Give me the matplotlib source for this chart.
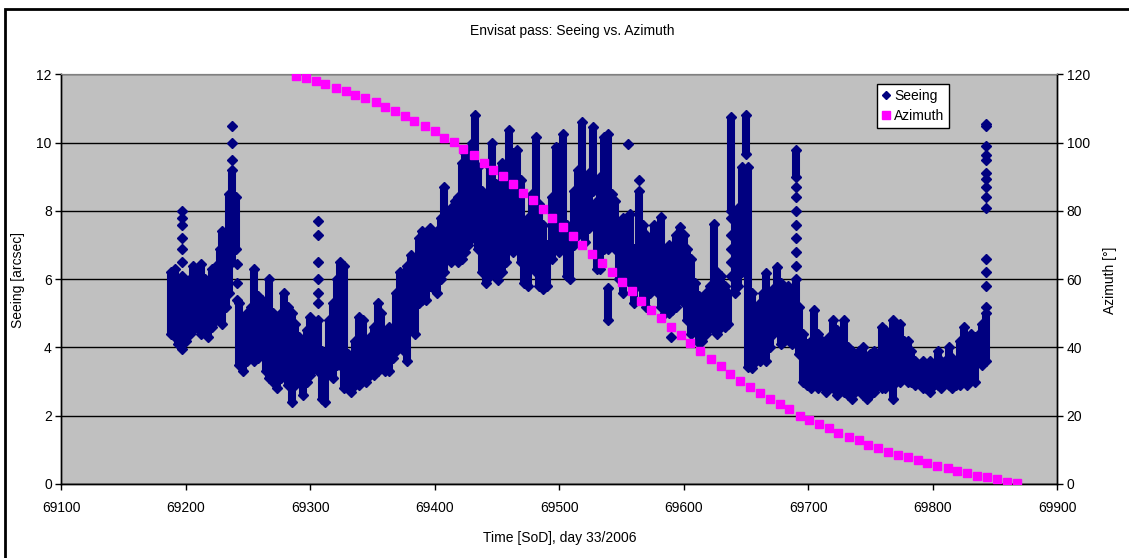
import matplotlib.pyplot as plt
from matplotlib.lines import Line2D
from matplotlib.patches import Rectangle

plt.rcParams['font.family'] = ['Liberation Sans', 'DejaVu Sans']

# azimuth samples [SoD], [deg]
az_time = [69288.7, 69296.5, 69304.3, 69312.0, 69320.6, 69328.4, 69336.2, 69343.9,
           69352.6, 69360.3, 69368.1, 69375.9, 69383.6, 69392.2, 69400.0, 69407.7,
           69415.5, 69423.0, 69431.6, 69439.4, 69447.1, 69454.9, 69462.7, 69471.2,
           69479.0, 69486.8, 69494.5, 69503.1, 69510.9, 69518.6, 69526.4, 69534.2,
           69542.7, 69550.5, 69558.3, 69566.0, 69573.6, 69582.1, 69589.9, 69597.7,
           69605.4, 69613.5, 69622.1, 69629.9, 69637.6, 69645.4, 69653.2, 69661.5,
           69669.2, 69677.0, 69684.8, 69693.4, 69701.1, 69708.9, 69716.7, 69724.4,
           69733.0, 69740.8, 69748.5, 69756.3, 69764.1, 69772.6, 69780.4, 69788.2,
           69795.9, 69803.7, 69812.3, 69820.0, 69827.8, 69835.6, 69844.1, 69851.9,
           69859.7, 69867.5]
az_value = [119.7, 118.9, 118.0, 117.1, 116.0, 115.1, 114.1, 113.1,
            111.9, 110.4, 109.3, 107.9, 106.3, 104.9, 103.4, 101.5,
            100.1, 98.3, 96.3, 94.2, 92.0, 90.2, 87.9, 85.4,
            83.1, 80.5, 78.0, 75.4, 72.8, 70.1, 67.3, 64.7,
            62.1, 59.1, 56.6, 53.7, 51.1, 48.5, 45.9, 43.6,
            41.2, 38.9, 36.7, 34.5, 32.3, 30.3, 28.5, 26.7,
            24.9, 23.4, 21.9, 19.9, 18.9, 17.5, 16.3, 14.8,
            13.8, 12.8, 11.5, 10.5, 9.4, 8.6, 7.9, 6.9,
            6.1, 5.4, 4.7, 3.9, 3.2, 2.4, 2.1, 1.5,
            0.7, 0.2]

# seeing: dense measurement streaks, per time column the low / high value [arcsec]
col_time = [69188, 69191, 69194, 69197, 69200, 69203, 69206, 69209, 69212, 69215,
            69218, 69221, 69224, 69227, 69229, 69232, 69235, 69237, 69240, 69243,
            69246, 69249, 69252, 69255, 69258, 69261, 69264, 69267, 69270, 69273,
            69276, 69279, 69282, 69285, 69288, 69291, 69294, 69297, 69300, 69303,
            69306, 69309, 69312, 69315, 69318, 69321, 69324, 69327, 69330, 69333,
            69336, 69339, 69342, 69345, 69348, 69351, 69354, 69357, 69360, 69363,
            69366, 69369, 69372, 69375, 69378, 69381, 69384, 69387, 69390, 69393,
            69396, 69399, 69402, 69405, 69407, 69410, 69413, 69416, 69419, 69422,
            69424, 69427, 69430, 69432, 69435, 69438, 69441, 69444, 69446, 69449,
            69451, 69454, 69457, 69460, 69463, 69466, 69469, 69472, 69475, 69478,
            69481, 69484, 69487, 69490, 69494, 69497, 69500, 69503, 69506, 69509,
            69512, 69515, 69518, 69521, 69524, 69527, 69530, 69533, 69536, 69539,
            69539, 69542, 69545, 69548, 69551, 69557, 69560, 69564, 69567, 69570,
            69573, 69576, 69579, 69582, 69585, 69588, 69591, 69594, 69597, 69600,
            69603, 69606, 69609, 69612, 69615, 69618, 69621, 69624, 69627, 69630,
            69633, 69636, 69638, 69641, 69644, 69647, 69650, 69652, 69655, 69658,
            69661, 69664, 69666, 69669, 69672, 69675, 69678, 69681, 69684, 69687,
            69690, 69690, 69693, 69696, 69699, 69702, 69705, 69708, 69711, 69714,
            69717, 69720, 69723, 69726, 69729, 69732, 69735, 69738, 69741, 69744,
            69747, 69750, 69753, 69756, 69759, 69762, 69765, 69768, 69771, 69774,
            69777, 69780, 69783, 69786, 69789, 69792, 69795, 69798, 69801, 69804,
            69807, 69810, 69813, 69816, 69819, 69822, 69825, 69828, 69831, 69834,
            69837, 69840, 69843]
col_low = [4.4, 4.3, 4.1, 3.95, 4.2, 4.4, 4.5, 4.7, 4.4, 4.5,
           4.3, 4.6, 4.8, 5.0, 4.7, 5.2, 5.6, 6.5, 6.9, 3.5,
           3.3, 3.6, 3.9, 3.6, 3.7, 3.9, 3.3, 3.1, 3.0, 2.8,
           3.1, 3.4, 2.9, 2.4, 2.9, 3.5, 2.6, 3.0, 3.2, 3.4,
           3.3, 2.5, 2.4, 3.3, 3.1, 3.5, 3.5, 2.8, 2.8, 2.7,
           2.9, 2.9, 3.1, 3.0, 3.2, 3.2, 3.3, 3.5, 3.3, 3.3,
           3.7, 3.9, 4.0, 3.9, 3.6, 4.8, 4.4, 5.3, 5.4, 5.4,
           5.8, 5.7, 5.6, 6.0, 6.2, 6.6, 6.5, 6.6, 6.5, 6.6,
           6.8, 7.0, 7.2, 7.5, 6.9, 6.2, 5.9, 6.1, 6.5, 6.1,
           5.97, 6.2, 6.5, 7.3, 6.8, 6.9, 6.5, 5.9, 5.8, 6.4,
           6.2, 5.8, 5.7, 5.8, 6.6, 6.9, 6.8, 7.2, 6.1, 6.0,
           7.0, 7.3, 7.8, 7.1, 7.5, 8.6, 6.3, 6.3, 6.9, 6.9,
           4.8, 7.0, 6.9, 6.0, 5.6, 5.9, 5.3, 5.8, 5.4, 5.2,
           5.6, 5.9, 5.6, 5.2, 5.0, 5.0, 5.1, 5.2, 5.5, 5.3,
           4.8, 4.4, 4.6, 4.12, 4.2, 4.4, 4.6, 4.5, 4.4, 4.6,
           4.6, 4.7, 8.0, 5.6, 5.8, 6.2, 9.68, 3.44, 3.4, 3.6,
           3.6, 3.8, 3.6, 4.0, 4.4, 4.6, 4.1, 4.2, 4.3, 4.1,
           4.8, 9.0, 3.8, 3.0, 2.9, 2.8, 2.9, 2.8, 2.9, 2.7,
           2.9, 2.8, 2.6, 2.8, 2.7, 2.6, 2.5, 2.7, 2.8, 2.6,
           2.5, 2.6, 2.7, 2.9, 2.8, 2.8, 2.9, 2.5, 3.0, 3.0,
           3.1, 3.0, 3.0, 2.9, 3.0, 2.8, 2.8, 2.7, 2.9, 2.9,
           2.8, 3.0, 2.9, 2.8, 2.9, 2.9, 3.0, 2.9, 3.2, 3.0,
           3.6, 3.5, 3.6]
col_high = [6.2, 6.3, 5.8, 6.1, 5.5, 6.0, 6.4, 6.3, 6.45, 6.0,
            5.9, 6.3, 6.4, 6.9, 7.4, 6.9, 8.5, 9.2, 8.4, 5.3,
            4.9, 5.0, 5.2, 6.3, 5.5, 5.4, 4.5, 6.0, 5.0, 4.5,
            5.0, 5.6, 5.2, 5.0, 4.7, 4.3, 4.1, 4.5, 4.9, 4.7,
            4.8, 3.9, 3.4, 4.8, 5.3, 6.0, 6.5, 6.4, 3.8, 3.6,
            4.2, 4.9, 4.8, 4.0, 4.3, 4.6, 5.3, 5.0, 4.4, 4.6,
            4.4, 5.6, 6.2, 5.8, 6.4, 6.7, 6.5, 7.2, 7.4, 6.9,
            7.5, 7.3, 7.4, 7.8, 8.7, 8.0, 8.1, 8.3, 8.4, 9.4,
            9.7, 9.5, 10.0, 10.8, 9.3, 8.6, 8.3, 9.3, 10.0, 8.8,
            8.3, 9.4, 9.0, 10.36, 9.7, 9.78, 8.9, 7.6, 7.8, 8.5,
            10.17, 8.2, 7.6, 7.0, 8.4, 9.87, 9.6, 10.26, 7.6, 7.2,
            8.6, 9.2, 10.6, 9.0, 9.1, 10.46, 8.3, 9.0, 10.17, 10.26,
            5.73, 8.5, 8.3, 7.2, 7.8, 7.9, 6.9, 8.6, 7.6, 7.3,
            7.1, 7.6, 7.3, 7.83, 6.8, 7.0, 6.8, 7.3, 7.53, 7.3,
            6.9, 6.6, 5.9, 5.5, 5.3, 5.6, 5.8, 7.63, 6.2, 6.1,
            5.8, 5.6, 10.75, 7.7, 8.1, 9.3, 10.8, 9.3, 5.6, 5.0,
            5.3, 5.6, 6.17, 5.2, 5.7, 6.36, 5.9, 5.4, 5.8, 5.5,
            6.0, 9.78, 5.2, 4.4, 4.1, 4.2, 5.1, 4.4, 4.2, 4.0,
            4.3, 4.8, 4.5, 3.6, 4.8, 4.0, 3.9, 3.8, 3.9, 4.0,
            3.7, 3.8, 3.9, 3.4, 4.6, 4.5, 3.8, 4.8, 4.5, 4.7,
            4.2, 4.2, 3.9, 3.6, 3.5, 3.6, 3.5, 3.6, 3.5, 3.9,
            3.6, 3.6, 4.0, 3.7, 3.6, 4.2, 4.6, 4.1, 4.4, 4.3,
            4.4, 4.7, 5.0]

# seeing: isolated samples above the streaks
spike_time = [69197, 69197, 69197, 69197, 69197, 69197,
              69237, 69237, 69237, 69241, 69241, 69241,
              69306, 69306, 69306, 69306, 69306, 69306,
              69555, 69564, 69590,
              69638, 69638, 69638, 69638, 69638,
              69690, 69690, 69690, 69690, 69690, 69690, 69690,
              69843, 69843, 69843, 69843, 69843, 69843, 69843,
              69843, 69843, 69843, 69843, 69843, 69843, 69843]
spike_seeing = [6.5, 6.9, 7.2, 7.6, 7.8, 8.0,
                9.5, 10.0, 10.5, 6.46, 5.88, 5.39,
                7.7, 7.3, 6.5, 6.0, 5.6, 5.3,
                9.97, 8.9, 4.31,
                7.8, 7.3, 6.9, 6.5, 6.1,
                8.7, 8.4, 8.0, 7.6, 7.2, 6.8, 6.4,
                5.2, 5.8, 6.2, 6.6, 8.1, 8.4, 8.7,
                8.95, 9.1, 9.5, 9.65, 9.9, 10.5, 10.56]

navy = '#000080'
magenta = '#ff00ff'
dsize = 4.8

fig = plt.figure(figsize=(11.29, 5.58), dpi=100)
fig.patch.set_facecolor('white')
ax = fig.add_axes([0.05447, 0.13262, 0.88176, 0.73387])
ax.set_facecolor('#c0c0c0')

# seeing streaks
ax.vlines(col_time, col_low, col_high, colors=navy, linewidth=5.8,
          capstyle='butt', zorder=3)
ax.plot(col_time, col_low, 'D', color=navy, markersize=dsize, zorder=3)
ax.plot(col_time, col_high, 'D', color=navy, markersize=dsize, zorder=3)
ax.plot(spike_time, spike_seeing, 'D', color=navy, markersize=dsize, zorder=3)

ax.set_xlim(69100, 69900)
ax.set_ylim(0, 12)
ax.set_xticks(range(69100, 69901, 100))
ax.set_yticks(range(0, 13, 2))
ax.yaxis.grid(True, color='black', linewidth=1.0, zorder=1)
ax.set_axisbelow(True)

ax2 = ax.twinx()
ax2.plot(az_time, az_value, 's', color=magenta, markersize=6, zorder=4)
ax2.set_ylim(0, 120)
ax2.set_yticks(range(0, 121, 20))

for a in (ax, ax2):
    a.spines['top'].set_color('#808080')
    for side in ('left', 'right', 'bottom'):
        a.spines[side].set_color('black')
        a.spines[side].set_linewidth(1.0)
    a.tick_params(direction='out', length=4, width=1, color='black',
                  labelsize=10, labelcolor='black')

ax.tick_params(axis='x', pad=8)
ax.tick_params(axis='y', pad=3)
ax2.tick_params(axis='y', pad=3)

handles = [Line2D([], [], marker='D', color=navy, linestyle='none', markersize=4.2),
           Line2D([], [], marker='s', color=magenta, linestyle='none', markersize=6)]
leg = ax2.legend(handles, ['Seeing', 'Azimuth'], loc='upper left',
                 bbox_to_anchor=(0.819, 0.977), fontsize=10, frameon=True,
                 fancybox=False, edgecolor='black', framealpha=1,
                 borderpad=0.35, handlelength=0.6, handletextpad=0.3,
                 labelspacing=0.45, borderaxespad=0)
leg.get_frame().set_linewidth(1.0)

fig.text(0.5066, 0.944, 'Envisat pass: Seeing vs. Azimuth', ha='center', va='center',
         fontsize=10)
fig.text(0.4960, 0.036, 'Time [SoD], day 33/2006', ha='center', va='center', fontsize=10)
fig.text(0.0160, 0.498, 'Seeing [arcsec]', ha='center', va='center', rotation=90,
         fontsize=10)
fig.text(0.9832, 0.498, 'Azimuth [°]', ha='center', va='center', rotation=90,
         fontsize=10)

# outer chart border (top and left edges visible)
fig.patches.append(Rectangle((5 / 1129, -0.1), 1.2, (1 - 9 / 558) + 0.1,
                             transform=fig.transFigure, fill=False,
                             edgecolor='black', linewidth=2.0))

fig.savefig('out.png', dpi=100)
